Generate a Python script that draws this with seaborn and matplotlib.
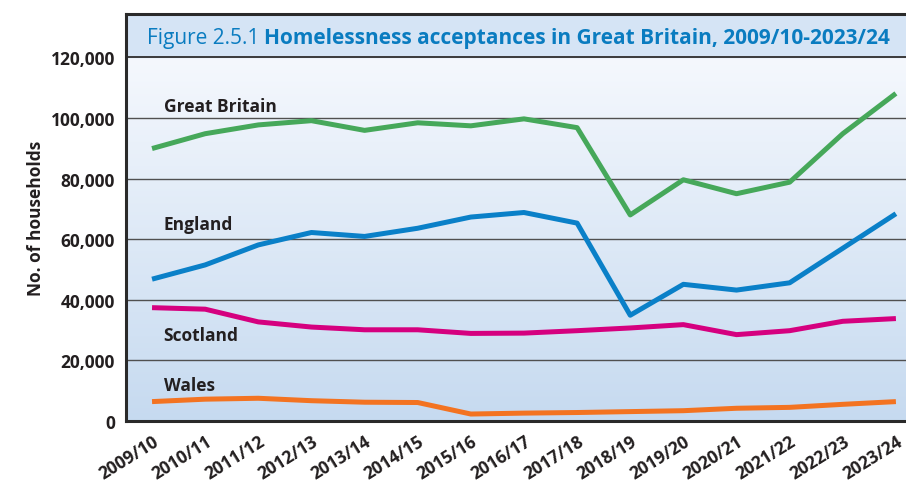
import numpy as np
import pandas as pd
import matplotlib
matplotlib.use("Agg")
import matplotlib.pyplot as plt
from matplotlib import font_manager
import seaborn as sns

# Financial years on the x axis
years = ["2009/10", "2010/11", "2011/12", "2012/13", "2013/14", "2014/15",
         "2015/16", "2016/17", "2017/18", "2018/19", "2019/20", "2020/21",
         "2021/22", "2022/23", "2023/24"]

# Homelessness acceptances (households)
great_britain = [89900, 94800, 97700, 99100, 95900, 98400, 97400, 99700,
                 96800, 68000, 79600, 75000, 78800, 94800, 108100]
england = [46800, 51500, 58100, 62200, 60900, 63600, 67300, 68800,
           65300, 34900, 45100, 43200, 45600, 57000, 68400]
scotland = [37400, 36900, 32700, 31000, 30100, 30100, 28900, 29000,
            29800, 30700, 31800, 28500, 29800, 32900, 33800]
wales = [6400, 7200, 7500, 6700, 6200, 6100, 2300, 2600,
         2800, 3100, 3400, 4200, 4500, 5500, 6400]

series_names = ["Great Britain", "England", "Scotland", "Wales"]
series_colors = ["#46a85a", "#0a80c8", "#d5007f", "#f37321"]
y_ticks = [0, 20000, 40000, 60000, 80000, 100000, 120000]

installed = {f.name for f in font_manager.fontManager.ttflist}
cond = "Liberation Sans Narrow" if "Liberation Sans Narrow" in installed else "Open Sans"

sns.set_theme(style="white")
plt.rcParams["font.family"] = [cond, "DejaVu Sans"]

df = pd.DataFrame({
    "year": years * 4,
    "x": list(range(len(years))) * 4,
    "value": great_britain + england + scotland + wales,
    "series": sum([[n] * len(years) for n in series_names], []),
})

fig = plt.figure(figsize=(9.06, 4.85), dpi=100)
ax = fig.add_axes([126 / 906, 63 / 485, 1 - 126 / 906, (422 - 15) / 485])

ymax = 134300
ax.set_xlim(-0.49, 14.19)
ax.set_ylim(0, ymax)

# vertical gradient background
grad = np.linspace(0, 1, 256).reshape(-1, 1)
cmap = matplotlib.colors.LinearSegmentedColormap.from_list(
    "bg", ["#c6daf0", "#f5f8fd"])
ax.imshow(grad, extent=[-0.49, 14.19, 0, 120000], origin="lower",
          cmap=cmap, aspect="auto", zorder=0)
# title band
ax.axhspan(120000, ymax, color="#d5e4f5", zorder=0.5)
ax.axhline(120000, color="#3a3a3a", lw=1.4, zorder=1)

for t in y_ticks[1:-1]:
    ax.axhline(t, color="#505050", lw=1.0, zorder=1)

sns.lineplot(data=df, x="x", y="value", hue="series", hue_order=series_names,
             palette=series_colors, linewidth=3.6, legend=False, ax=ax,
             zorder=3)
for line in ax.lines[-4:]:
    line.set_solid_capstyle("butt")

label_y = {"Great Britain": 103800, "England": 65000,
           "Scotland": 28400, "Wales": 11800}
for name in series_names:
    ax.text(0.22, label_y[name], name, fontsize=12.5, fontweight="bold",
            color="#231f20", ha="left", va="center", zorder=4)

ax.set_yticks(y_ticks)
ax.set_yticklabels([f"{t:,}" for t in y_ticks], fontsize=12.5,
                   fontweight="bold", color="#231f20")
ax.set_xticks(range(len(years)))
ax.set_xticklabels(years, rotation=32, ha="right", rotation_mode="anchor",
                   fontsize=12.5, fontweight="bold", color="#231f20")
ax.tick_params(axis="both", length=0, pad=8)
ax.set_xlabel("")
ax.set_ylabel("No. of households", fontsize=12.5, fontweight="bold",
              color="#231f20", labelpad=4)

for side in ["left", "bottom", "top"]:
    ax.spines[side].set_visible(True)
    ax.spines[side].set_color("#2a2a2a")
    ax.spines[side].set_linewidth(2.2)
ax.spines["right"].set_visible(False)

# title inside the band: plain prefix, bold remainder
title_y = 126400
t1 = ax.text(-0.1, title_y, "Figure 2.5.1 ", fontsize=15, color="#0a7cc0",
             ha="left", va="center", family=["Open Sans", "DejaVu Sans"],
             zorder=5)
fig.canvas.draw()
bb = t1.get_window_extent(renderer=fig.canvas.get_renderer())
x_end = ax.transData.inverted().transform((bb.x1, bb.y0))[0]
ax.text(x_end, title_y,
        "Homelessness acceptances in Great Britain, 2009/10-2023/24",
        fontsize=15, fontweight="bold", color="#0a7cc0", ha="left",
        va="center", family=["Open Sans", "DejaVu Sans"], zorder=5)

fig.savefig("out.png", dpi=100, facecolor="white")
